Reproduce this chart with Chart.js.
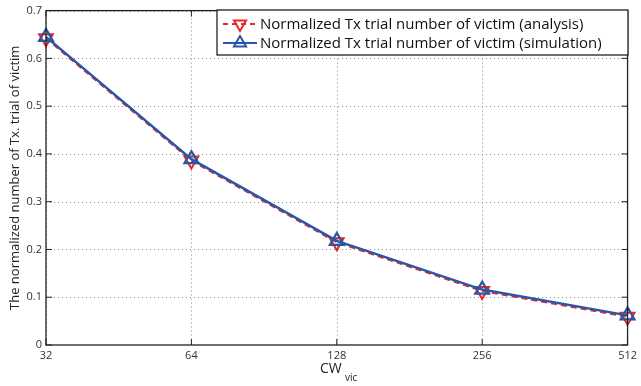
<!DOCTYPE html>
<html>
<head>
<meta charset="utf-8">
<script src="https://cdn.jsdelivr.net/npm/chart.js@4"></script>
<style>
  html, body { margin: 0; padding: 0; background: #fff; }
  #wrap { width: 641px; height: 386px; }
</style>
</head>
<body>
<div id="wrap"><canvas id="grafico" width="641" height="386"></canvas></div>
<script>
// contention window values (log2 spaced, so a category axis works)
const ventanas = ["32", "64", "128", "256", "512"]
const analisis = [0.642, 0.386, 0.215, 0.113, 0.059]
const simulacion = [0.645, 0.389, 0.218, 0.116, 0.062]
const marcasY = [0, 0.1, 0.2, 0.3, 0.4, 0.5, 0.6, 0.7]

const nombres = [
  "Normalized Tx trial number of victim (analysis)",
  "Normalized Tx trial number of victim (simulation)",
]
const ROJO = "#e8262b"
const AZUL = "#2857a8"
const FUENTE = "'Open Sans', 'DejaVu Sans', sans-serif"

// dotted grid under the lines, kept inside the plot box
const rejilla = {
  id: "rejilla",
  beforeDatasetsDraw(chart) {
    const ctx = chart.ctx
    const a = chart.chartArea
    const x = chart.scales.x
    const y = chart.scales.y
    ctx.save()
    ctx.beginPath()
    ctx.rect(a.left, a.top, a.right - a.left, a.bottom - a.top)
    ctx.clip()
    ctx.strokeStyle = "#8a8a8a"
    ctx.lineWidth = 1
    ctx.setLineDash([1, 3])
    ctx.beginPath()
    ventanas.forEach((v, i) => {
      const px = Math.round(x.getPixelForValue(i)) + 0.5
      ctx.moveTo(px, a.top); ctx.lineTo(px, a.bottom)
    })
    marcasY.forEach((v) => {
      const py = Math.round(y.getPixelForValue(v)) + 0.5
      ctx.moveTo(a.left, py); ctx.lineTo(a.right, py)
    })
    ctx.stroke()
    ctx.setLineDash([])
    ctx.restore()
  },
}

// box, inward ticks, axis titles and legend, drawn like a matlab figure
const marco = {
  id: "marco",
  afterDraw(chart) {
    const ctx = chart.ctx
    const a = chart.chartArea
    const x = chart.scales.x
    const y = chart.scales.y
    ctx.save()
    ctx.setLineDash([])
    ctx.strokeStyle = "#222"
    ctx.lineWidth = 1.3
    ctx.strokeRect(a.left, a.top, a.right - a.left, a.bottom - a.top)
    ctx.lineWidth = 1
    ctx.beginPath()
    ventanas.forEach((v, i) => {
      const px = x.getPixelForValue(i)
      ctx.moveTo(px, a.bottom); ctx.lineTo(px, a.bottom - 6)
      ctx.moveTo(px, a.top); ctx.lineTo(px, a.top + 6)
    })
    marcasY.forEach((v) => {
      const py = y.getPixelForValue(v)
      ctx.moveTo(a.left, py); ctx.lineTo(a.left + 6, py)
      ctx.moveTo(a.right, py); ctx.lineTo(a.right - 6, py)
    })
    ctx.stroke()

    // titulo eje y
    ctx.fillStyle = "#222"
    ctx.font = "13px " + FUENTE
    ctx.textAlign = "center"
    ctx.textBaseline = "middle"
    ctx.save()
    ctx.translate(15, (a.top + a.bottom) / 2)
    ctx.rotate(-Math.PI / 2)
    ctx.fillText("The normalized number of Tx. trial of victim", 0, 0)
    ctx.restore()

    // titulo eje x con subindice
    ctx.textAlign = "left"
    ctx.font = "14px " + FUENTE
    ctx.fillText("CW", 320, 369)
    ctx.font = "10px " + FUENTE
    ctx.fillText("vic", 345, 378)

    // leyenda
    const lx = 217, ly = 10, lw = 411, lh = 45
    ctx.fillStyle = "#fff"
    ctx.fillRect(lx, ly, lw, lh)
    ctx.strokeStyle = "#111"
    ctx.lineWidth = 1.2
    ctx.strokeRect(lx, ly, lw, lh)
    const filas = [
      { color: ROJO, dash: [5, 4], rot: 180, y: ly + 14 },
      { color: AZUL, dash: [], rot: 0, y: ly + 33 },
    ]
    filas.forEach((f, i) => {
      ctx.strokeStyle = f.color
      ctx.lineWidth = 2
      ctx.setLineDash(f.dash)
      ctx.beginPath()
      ctx.moveTo(223, f.y); ctx.lineTo(257, f.y)
      ctx.stroke()
      ctx.setLineDash([])
      ctx.fillStyle = "rgba(0,0,0,0)"
      Chart.helpers.drawPoint(ctx, { pointStyle: "triangle", radius: 7, rotation: f.rot, borderWidth: 2 }, 240, f.y)
      ctx.fillStyle = "#111"
      ctx.font = "15px " + FUENTE
      ctx.textAlign = "left"
      ctx.fillText(nombres[i], 260, f.y + 1)
    })
    ctx.restore()
  },
}

new Chart(document.getElementById("grafico"), {
  type: "line",
  data: {
    labels: ventanas,
    datasets: [
      {
        label: nombres[0],
        data: analisis,
        borderColor: ROJO,
        backgroundColor: "rgba(0,0,0,0)",
        borderWidth: 2,
        borderDash: [6, 4],
        pointStyle: "triangle",
        pointRotation: 180,
        pointRadius: 8,
        pointBorderWidth: 2,
        pointBorderColor: ROJO,
        pointBackgroundColor: "rgba(0,0,0,0)",
        tension: 0,
        order: 1,
      },
      {
        label: nombres[1],
        data: simulacion,
        borderColor: AZUL,
        backgroundColor: "rgba(0,0,0,0)",
        borderWidth: 2.5,
        pointStyle: "triangle",
        pointRadius: 8,
        pointBorderWidth: 2.2,
        pointBorderColor: AZUL,
        pointBackgroundColor: "rgba(0,0,0,0)",
        tension: 0,
        order: 0,
      },
    ],
  },
  options: {
    responsive: false,
    animation: false,
    layout: { padding: { left: 0, right: 8, top: 5, bottom: 0 } },
    plugins: { legend: { display: false }, tooltip: { enabled: false } },
    scales: {
      x: {
        type: "category",
        offset: false,
        grid: { display: false, drawTicks: false },
        border: { display: false },
        ticks: { color: "#333", font: { size: 11, family: FUENTE }, padding: 4, maxRotation: 0 },
        afterFit: (s) => { s.height = 41 },
      },
      y: {
        min: 0,
        max: 0.7,
        afterBuildTicks: (s) => { s.ticks = marcasY.map((v) => ({ value: v })) },
        grid: { display: false, drawTicks: false },
        border: { display: false },
        ticks: { color: "#333", font: { size: 11, family: FUENTE }, padding: 4 },
        afterFit: (s) => { s.width = 46 },
      },
    },
  },
  plugins: [rejilla, marco],
})
</script>
</body>
</html>
